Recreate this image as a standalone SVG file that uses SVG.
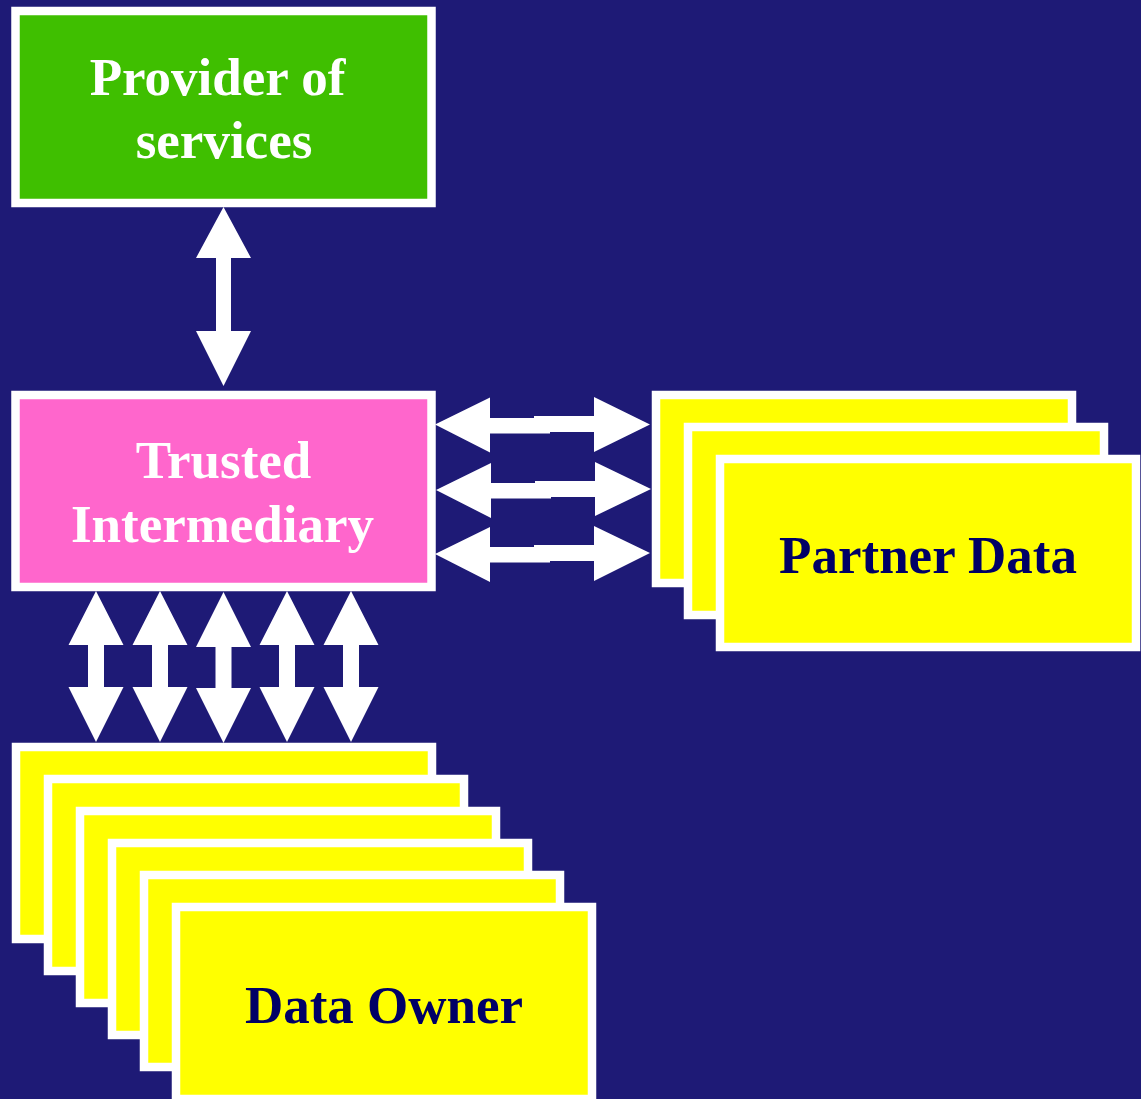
<svg xmlns="http://www.w3.org/2000/svg" width="1141" height="1099" viewBox="0 0 1141 1099">
<style>
.box{stroke:#FFFFFF;stroke-width:8.5}
.green{fill:#3FBF00}
.pink{fill:#FF66CC}
.yellow{fill:#FFFF00}
.arrow{fill:#FFFFFF}
.lw{font-family:"Liberation Serif","Times New Roman",serif;font-weight:bold;font-size:53px;fill:#FFFFFF;text-anchor:middle}
.ln{font-family:"Liberation Serif","Times New Roman",serif;font-weight:bold;font-size:53px;fill:#000066;text-anchor:middle}
</style>
<rect x="0" y="0" width="1141" height="1099" fill="#1E1A76"/>
<g id="connectors">
<path class="arrow" d="M223.5,207 L251,258 L231,258 L231,331 L251,331 L223.5,386 L196,331 L216,331 L216,258 L196,258 Z"/>
<g id="down-arrows">
<path class="arrow" d="M96,591 L123.5,645 L104,645 L104,687 L123.5,687 L96,742 L68.5,687 L88,687 L88,645 L68.5,645 Z"/>
<path class="arrow" d="M160,591 L187.5,645 L168,645 L168,687 L187.5,687 L160,742 L132.5,687 L152,687 L152,645 L132.5,645 Z"/>
<path class="arrow" d="M223.5,592 L251,647 L231.5,647 L231.5,688 L251,688 L223.5,743 L196,688 L215.5,688 L215.5,647 L196,647 Z"/>
<path class="arrow" d="M287,591 L314.5,645 L295,645 L295,687 L314.5,687 L287,742 L259.5,687 L279,687 L279,645 L259.5,645 Z"/>
<path class="arrow" d="M351,591 L378.5,645 L359,645 L359,687 L378.5,687 L351,742 L323.5,687 L343,687 L343,645 L323.5,645 Z"/>
</g>
<g id="side-arrows">
<path class="arrow" d="M435,424.5 L490,397.5 L490,418 L534,418 L534,416 L594,416 L594,397 L650,424.5 L594,452 L594,432 L550,432 L550,433.5 L490,433.5 L490,452.5 Z"/>
<path class="arrow" d="M436,490 L491,463 L491,483 L535,483 L535,481 L595,481 L595,462 L651,489 L595,516 L595,497 L551,497 L551,498.5 L491,498.5 L491,518 Z"/>
<path class="arrow" d="M435,554 L490,527 L490,547 L534,547 L534,545 L594,545 L594,526 L650,553 L594,581 L594,561 L550,561 L550,562.5 L490,562.5 L490,582 Z"/>
</g>
</g>
<g id="provider">
<rect class="box green" x="15.5" y="11" width="416" height="192"/>
<text class="lw" x="217.5" y="95">Provider of</text>
<text class="lw" x="224" y="158">services</text>
</g>
<g id="intermediary">
<rect class="box pink" x="15.5" y="395" width="416" height="192"/>
<text class="lw" x="223.5" y="478">Trusted</text>
<text class="lw" x="222.5" y="542">Intermediary</text>
</g>
<g id="partner-data">
<rect class="box yellow" x="656" y="395" width="416" height="188"/>
<rect class="box yellow" x="688" y="427" width="416" height="188"/>
<rect class="box yellow" x="720" y="459" width="416" height="188"/>
<text class="ln" x="928" y="573">Partner Data</text>
</g>
<g id="data-owner">
<rect class="box yellow" x="16" y="747" width="416" height="192"/>
<rect class="box yellow" x="48" y="779" width="416" height="192"/>
<rect class="box yellow" x="80" y="811" width="416" height="192"/>
<rect class="box yellow" x="112" y="843" width="416" height="192"/>
<rect class="box yellow" x="144" y="875" width="416" height="192"/>
<rect class="box yellow" x="176" y="907" width="416" height="192"/>
<text class="ln" x="384" y="1023">Data Owner</text>
</g>
</svg>
